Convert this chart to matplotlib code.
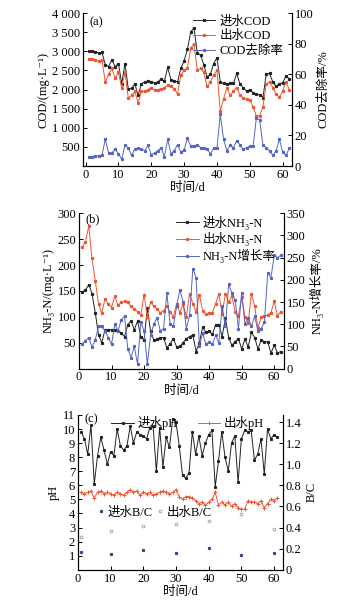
import numpy as np
import matplotlib
matplotlib.use("Agg")
import matplotlib.pyplot as plt
from matplotlib.ticker import FuncFormatter

plt.rcParams['font.family'] = ['Liberation Serif', 'DejaVu Serif', 'Noto Sans CJK SC']
plt.rcParams['font.size'] = 9
plt.rcParams['axes.unicode_minus'] = False

# --------------------------
# data
# --------------------------
days_a = np.arange(1, 63)
cod_in = [3000, 3000, 2990, 2960, 2970, 2650, 2600, 2780, 2600, 2680,
          2150, 2680, 2020, 2030, 2150, 1850, 2150, 2200, 2230, 2200,
          2170, 2200, 2280, 2220, 2580, 2250, 2230, 2200, 2550, 2750,
          3050, 3500, 3620, 2950, 2900, 2650, 2330, 2400, 2680, 2830,
          2200, 2160, 2150, 2170, 2160, 2420, 2150, 2050, 1960, 2000,
          1920, 1880, 1870, 1790, 2400, 2420, 2200, 2080, 2150, 2180,
          2350, 2280]
cod_out = [2800, 2790, 2770, 2750, 2760, 2200, 2400, 2550, 2300, 2450,
           2050, 2450, 1780, 1850, 1950, 1650, 1950, 1950, 2000, 2050,
           1980, 2000, 2020, 2050, 2120, 2080, 2020, 1880, 2380, 2500,
           2550, 3080, 3200, 2500, 2550, 2450, 2080, 2200, 2380, 2500,
           1430, 1750, 2050, 1850, 1950, 2050, 1850, 1780, 1750, 1720,
           1550, 1300, 1320, 1550, 2150, 2200, 2050, 1880, 1800, 1950,
           2200, 2000]
cod_rate = [6, 6.2, 6.5, 6.8, 7, 17.5, 8.5, 8.5, 11, 8,
            4.5, 13.5, 12, 7, 11, 11.5, 11, 10, 13.5, 7.5,
            8.5, 10, 12, 6, 17.5, 8, 10, 14, 9, 10.5,
            18, 13, 13, 14, 12, 12, 11, 8, 11.5, 11.5,
            34, 17.5, 10, 13.5, 12, 16.5, 14, 11, 12, 13,
            13, 31.5, 30, 13.5, 12, 10, 7, 10, 17.5, 9,
            7, 11.5]

days_b = np.arange(1, 63)
nh_in = [148, 152, 162, 145, 108, 65, 50, 75, 75, 75,
         75, 72, 68, 62, 85, 92, 75, 92, 62, 55,
         117, 72, 55, 57, 60, 60, 40, 48, 58, 42,
         43, 50, 58, 62, 65, 33, 50, 80, 70, 72,
         66, 85, 85, 62, 97, 60, 45, 52, 58, 38,
         57, 42, 70, 60, 38, 55, 52, 52, 30, 45,
         30, 33]
nh_out = [235, 245, 275, 213, 170, 125, 107, 135, 125, 118,
          140, 122, 128, 130, 128, 120, 115, 110, 103, 143,
          100, 128, 120, 115, 108, 112, 120, 110, 100, 125,
          108, 125, 100, 145, 125, 110, 143, 112, 105, 108,
          108, 125, 145, 105, 145, 128, 140, 110, 102, 138,
          100, 88, 145, 120, 78, 100, 102, 103, 108, 130,
          102, 110]
nh_rate = [55, 63, 70, 48, 65, 95, 95, 85, 70, 55,
           100, 85, 110, 118, 45, 25, 50, 10, 105, 85,
           10, 75, 100, 115, 85, 90, 170, 100, 95, 140,
           178, 150, 90, 120, 225, 205, 50, 80, 55, 60,
           55, 75, 58, 140, 95, 190, 170, 155, 90, 170,
           100, 115, 95, 118, 85, 90, 105, 215, 205, 255,
           250, 255]

days_c = np.arange(1, 62)
ph_in = [9.8, 9.3, 8.2, 10.3, 6.1, 8.1, 9.4, 8.5, 7.5, 8.4,
         8.1, 10.0, 8.8, 8.5, 8.8, 10.2, 9.0, 9.8, 9.6, 9.5,
         9.3, 10.1, 10.2, 7.0, 10.1, 7.3, 9.4, 8.7, 10.7, 10.5,
         8.8, 6.7, 6.5, 6.9, 9.8, 8.2, 9.5, 8.1, 9.0, 9.6,
         9.9, 5.9, 7.7, 9.8, 8.0, 7.0, 9.0, 9.5, 6.2, 9.3,
         9.9, 9.8, 9.9, 7.8, 8.2, 9.3, 6.8, 10.0, 9.3, 9.6,
         9.4]
ph_out = [5.5, 5.4, 5.5, 5.6, 5.1, 5.5, 5.6, 5.4, 5.5, 5.4,
          5.3, 5.5, 5.4, 5.3, 5.5, 5.7, 5.5, 5.6, 5.3, 5.5,
          5.4, 5.5, 5.3, 5.4, 5.5, 5.6, 5.5, 5.4, 5.5, 5.7,
          5.2, 5.0, 5.2, 5.2, 5.1, 4.9, 4.7, 4.8, 4.6, 4.8,
          5.0, 5.5, 4.6, 4.8, 4.6, 4.8, 4.5, 4.7, 4.4, 4.3,
          4.3, 4.9, 4.8, 4.8, 4.7, 4.9, 4.4, 4.7, 5.0, 4.9,
          5.1]
bc_days = [1, 10, 20, 30, 40, 50, 60]
bc_in = [0.17, 0.146, 0.187, 0.155, 0.21, 0.136, 0.155]
bc_out = [0.31, 0.37, 0.41, 0.43, 0.46, 0.53, 0.39]

BLACK = '#222222'
RED = '#ee5533'
BLUE = '#5566c0'
lw = 0.7
ms = 1.3
LEG_FS = 9

fig = plt.figure(figsize=(3.59, 6.07), dpi=100)


def style(ax, ax2):
    ax.spines['top'].set_visible(False)
    ax2.spines['top'].set_visible(False)
    ax.tick_params(direction='in', length=3, width=0.7, pad=2)
    ax2.tick_params(direction='in', length=3, width=0.7, pad=2)
    for s in ax.spines.values():
        s.set_linewidth(0.8)
    for s in ax2.spines.values():
        s.set_linewidth(0.8)


# --------------------------
# (a) COD
# --------------------------
ax = fig.add_axes([0.231, 0.7265, 0.582, 0.252])
ax2 = ax.twinx()
l1, = ax.plot(days_a, cod_in, '-s', color=BLACK, lw=lw, ms=ms)
l2, = ax.plot(days_a, cod_out, '-s', color=RED, lw=lw, ms=ms)
l3, = ax2.plot(days_a, cod_rate, '-s', color=BLUE, lw=lw, ms=ms)
ax.set_xlim(-0.8, 62.8)
ax.set_ylim(0, 4000)
ax.set_yticks(np.arange(500, 4001, 500))
ax.yaxis.set_major_formatter(FuncFormatter(lambda v, p: f"{int(v):,}".replace(",", " ")))
ax2.set_ylim(0, 100)
ax2.set_yticks(np.arange(0, 101, 20))
ax.set_xticks(np.arange(0, 61, 10))
ax.set_ylabel('COD/(mg·L⁻¹)', labelpad=2)
ax2.set_ylabel('COD去除率/%', rotation=90, labelpad=3)
ax.set_xlabel('时间/d', labelpad=1)
ax.text(0.03, 0.98, '(a)', transform=ax.transAxes, va='top', ha='left')
ax2.legend([l1, l2, l3], ['进水COD', '出水COD', 'COD去除率'], loc='upper right',
           bbox_to_anchor=(1.0, 1.04), frameon=False, handlelength=1.8,
           labelspacing=0.2, handletextpad=0.3, borderpad=0.2, fontsize=LEG_FS)
style(ax, ax2)

# --------------------------
# (b) NH3-N
# --------------------------
ax = fig.add_axes([0.220, 0.3927, 0.571, 0.256])
ax2 = ax.twinx()
l1, = ax.plot(days_b, nh_in, '-s', color=BLACK, lw=lw, ms=ms)
l2, = ax.plot(days_b, nh_out, '-s', color=RED, lw=lw, ms=ms)
l3, = ax2.plot(days_b, nh_rate, '-s', color=BLUE, lw=lw, ms=ms)
ax.set_xlim(0, 63)
ax.set_ylim(0, 300)
ax.set_yticks(np.arange(50, 301, 50))
ax2.set_ylim(0, 350)
ax2.set_yticks(np.arange(0, 351, 50))
ax.set_xticks(np.arange(0, 61, 10))
ax.set_ylabel('NH₃-N/(mg·L⁻¹)', labelpad=2)
ax2.set_ylabel('NH₃-N增长率/%', rotation=90, labelpad=3)
ax.set_xlabel('时间/d', labelpad=1)
ax.text(0.03, 1.0, '(b)', transform=ax.transAxes, va='top', ha='left')
ax2.legend([l1, l2, l3], ['进水NH₃-N', '出水NH₃-N', 'NH₃-N增长率'],
           loc='upper right', bbox_to_anchor=(1.0, 1.04), frameon=False,
           handlelength=1.8, labelspacing=0.2, handletextpad=0.3, borderpad=0.2,
           fontsize=LEG_FS)
style(ax, ax2)

# --------------------------
# (c) pH and B/C
# --------------------------
ax = fig.add_axes([0.217, 0.0614, 0.571, 0.255])
ax2 = ax.twinx()
l1, = ax.plot(days_c, ph_in, '-s', color=BLACK, lw=lw, ms=1.2)
l2, = ax.plot(days_c, ph_out, '-+', color=RED, lw=lw, ms=2.5, mew=0.7)
p1, = ax2.plot(bc_days, bc_in, 's', color='#33449a', ms=1.3, ls='none')
p2, = ax2.plot(bc_days, bc_out, 'o', mfc='none', mec='#999999', ms=2, mew=0.6, ls='none')
ax.set_xlim(0, 62.7)
ax.set_ylim(0, 11)
ax.set_yticks(np.arange(1, 12, 1))
ax2.set_ylim(0, 1.467)
ax2.set_yticks(np.arange(0, 1.41, 0.2))
ax2.yaxis.set_major_formatter(FuncFormatter(lambda v, p: '0' if abs(v) < 1e-9 else f"{v:.1f}"))
ax.set_xticks(np.arange(0, 61, 10))
ax.set_ylabel('pH', labelpad=2)
ax2.set_ylabel('B/C', rotation=90, labelpad=3)
ax.set_xlabel('时间/d', labelpad=1)
ax.text(0.03, 1.01, '(c)', transform=ax.transAxes, va='top', ha='left')
leg = ax2.legend([l1, l2], ['进水pH', '出水pH'], loc='upper left', ncol=2,
                 bbox_to_anchor=(0.12, 1.05), frameon=False, handlelength=1.8,
                 handletextpad=0.3, columnspacing=1.6, borderpad=0.2, fontsize=LEG_FS)
ax2.add_artist(leg)
ax2.legend([p1, p2], ['进水B/C', '出水B/C'], loc='center left', ncol=2,
           bbox_to_anchor=(0.06, 0.37), frameon=False, handlelength=0.6,
           handletextpad=0.2, columnspacing=0.3, borderpad=0.1, fontsize=LEG_FS)
style(ax, ax2)

fig.savefig('out.png', dpi=100)
